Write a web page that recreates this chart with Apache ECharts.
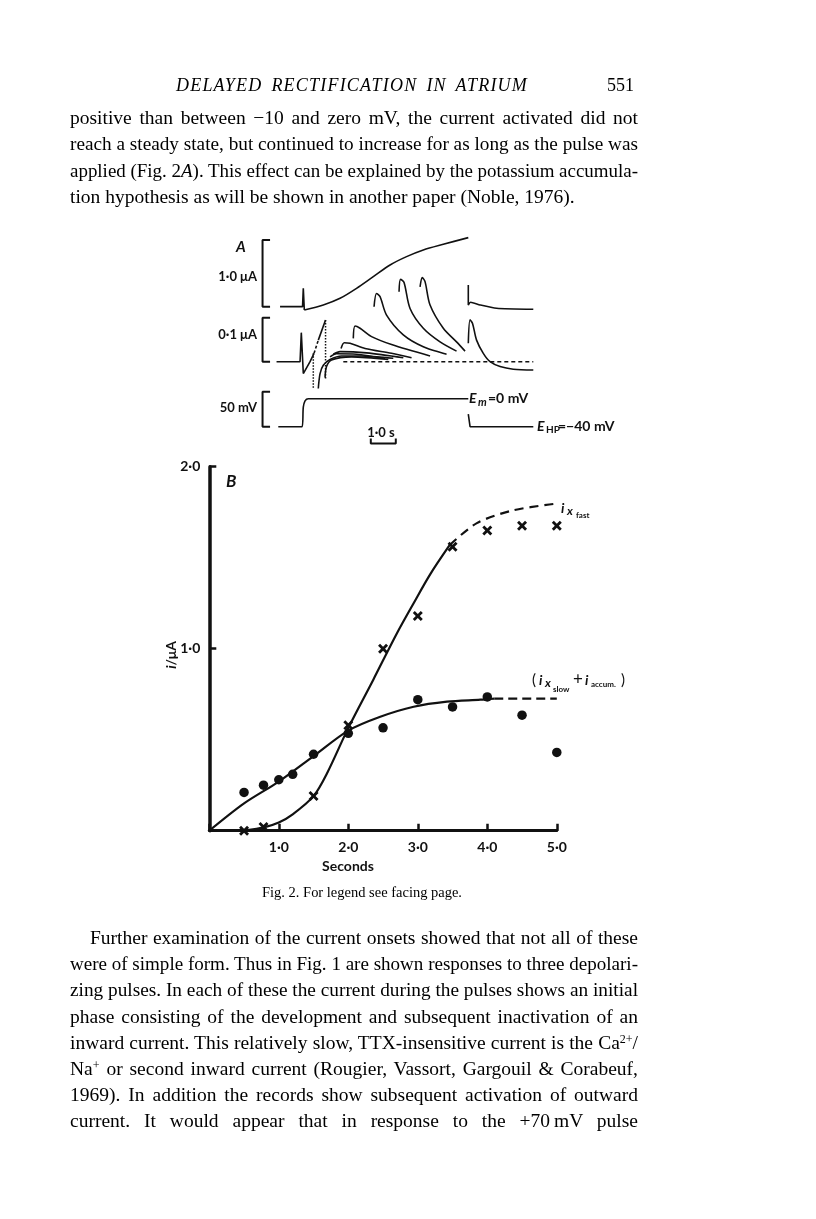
<!DOCTYPE html>
<html>
<head>
<meta charset="utf-8">
<script src="https://cdn.jsdelivr.net/npm/echarts@6/dist/echarts.min.js"></script>
<style>
  html, body { margin: 0; padding: 0; background: #fff; }
  #page { position: relative; width: 816px; height: 1219px; overflow: hidden; background: #fff; }
  #chart { position: absolute; left: 0; top: 0; width: 816px; height: 1219px; }
  .ln { position: absolute; white-space: nowrap; font-family: 'Liberation Serif', 'Times New Roman', serif;
        font-size: 19.5px; line-height: 26px; color: #000; transform-origin: 0 0; }
  .ln sup { font-size: 12px; line-height: 0; vertical-align: 6px; }
</style>
</head>
<body>
<div id="page">
  <div id="chart"></div>

  <div class="ln" data-j="1" style="left:176px;top:72px;width:352px;font-style:italic;font-size:18px;letter-spacing:1.2px"><span>DELAYED RECTIFICATION IN ATRIUM</span></div>
  <div class="ln" style="left:607px;top:72px;font-size:18px"><span>551</span></div>

  <div class="ln" data-j="1" style="left:70px;top:105px;width:568px"><span>positive than between &minus;10 and zero mV, the current activated did not</span></div>
  <div class="ln" data-j="1" style="left:70px;top:131px;width:568px"><span>reach a steady state, but continued to increase for as long as the pulse was</span></div>
  <div class="ln" data-j="1" style="left:70px;top:158px;width:568px"><span>applied (Fig. 2<i>A</i>). This effect can be explained by the potassium accumula-</span></div>
  <div class="ln" style="left:70px;top:184px"><span>tion hypothesis as will be shown in another paper (Noble, 1976).</span></div>

  <div class="ln" data-j="1" style="left:262px;top:879px;width:200px;font-size:15px"><span>Fig. 2. For legend see facing page.</span></div>

  <div class="ln" data-j="1" style="left:90px;top:925px;width:548px"><span>Further examination of the current onsets showed that not all of these</span></div>
  <div class="ln" data-j="1" style="left:70px;top:951px;width:568px"><span>were of simple form. Thus in Fig. 1 are shown responses to three depolari-</span></div>
  <div class="ln" data-j="1" style="left:70px;top:977px;width:568px"><span>zing pulses. In each of these the current during the pulses shows an initial</span></div>
  <div class="ln" data-j="1" style="left:70px;top:1004px;width:568px"><span>phase consisting of the development and subsequent inactivation of an</span></div>
  <div class="ln" data-j="1" style="left:70px;top:1030px;width:568px"><span>inward current. This relatively slow, TTX-insensitive current is the Ca<sup>2+</sup>/</span></div>
  <div class="ln" data-j="1" style="left:70px;top:1056px;width:568px"><span>Na<sup>+</sup> or second inward current (Rougier, Vassort, Gargouil &amp; Corabeuf,</span></div>
  <div class="ln" data-j="1" style="left:70px;top:1082px;width:568px"><span>1969). In addition the records show subsequent activation of outward</span></div>
  <div class="ln" data-j="1" style="left:70px;top:1108px;width:568px"><span>current. It would appear that in response to the +70&#8239;mV pulse</span></div>
</div>

<script>
// ---- Fig. 2B: measured points (time in s, current in uA)
const tSlow = [0.5, 0.78, 1.0, 1.2, 1.5, 2.0, 2.5, 3.0, 3.5, 4.0, 4.5, 5.0];
const iSlow = [0.21, 0.25, 0.28, 0.31, 0.42, 0.535, 0.565, 0.72, 0.68, 0.735, 0.635, 0.43];
const tFast = [0.5, 0.78, 1.5, 2.0, 2.5, 3.0, 3.5, 4.0, 4.5, 5.0];
const iFast = [0.0, 0.02, 0.19, 0.58, 1.0, 1.18, 1.56, 1.65, 1.675, 1.675];

// fitted curves drawn through the points
const slowFit = [[0, 0], [0.5, 0.15], [1.0, 0.27], [1.5, 0.41], [2.0, 0.55], [2.46, 0.626],
                 [2.94, 0.681], [3.42, 0.709], [3.9, 0.72], [4.1, 0.726]];
const slowFitDash = [[4.1, 0.726], [5.0, 0.726]];
const fastFit = [[0.3, 0], [0.55, 0.004], [0.8, 0.02], [1.0, 0.045], [1.2, 0.09], [1.5, 0.19],
                 [1.7, 0.32], [2.0, 0.565], [2.36, 0.83], [2.7, 1.085], [2.94, 1.25], [3.18, 1.41], [3.46, 1.57]];
const fastFitDash = [[3.46, 1.57], [3.85, 1.69], [4.37, 1.76], [4.95, 1.795]];

// ---- Fig. 2A: records (time in s from pulse onset)
// 1.0 uA trace (uA)
const bigOnset = [[-0.93, 0], [-0.03, 0], [0, 0.275], [0.04, -0.05]];
const bigRise = [[0.04, -0.05], [0.8, 0.025], [1.47, 0.125], [2.13, 0.275], [2.8, 0.45], [3.47, 0.625],
                 [4.13, 0.75], [4.8, 0.85], [5.6, 0.935], [6.6, 1.035]];
const bigTail = [[6.6, 0.325], [6.6, 0.025], [6.69, 0.065], [7.07, 0.025], [7.73, -0.025], [9.2, -0.04]];

// 0.1 uA traces (nA)
const onsetA = [[-1.07, 0], [-0.13, 0], [-0.08, 66], [0, -27], [0.08, -29], [0.27, 0], [0.43, 19]];
const onsetDash = [[0.43, 19], [0.6, 49]];
const onsetB = [[0.6, 49], [0.89, 95]];
const dropA = [[0.4, 19], [0.4, -59]];
const dropB = [[0.89, 95], [0.89, -38]];
const rec1 = [[0.6, -61], [0.67, -27], [0.8, -8], [1.07, 5], [1.53, 13], [2.33, 13], [3.27, 8]];
const rec2 = [[0.87, -36], [0.93, -11], [1.13, 4], [1.93, 11], [3.4, 5]];
const rec3 = [[1.07, 11], [1.33, 18], [2.13, 17], [2.93, 11], [3.6, 8]];
const rec4 = [[1.2, 17], [1.47, 23], [2.53, 20], [4.0, 9]];
const tail1 = [[1.51, 30], [1.64, 43], [1.87, 42], [2.47, 30], [3.53, 19], [4.33, 9]];
const tail2 = [[2.0, 53], [2.07, 81], [2.27, 76], [2.73, 57], [3.53, 39], [5.07, 13]];
const tail3 = [[2.83, 125], [2.93, 155], [3.07, 148], [3.33, 106], [4.0, 61], [4.8, 34], [5.73, 17]];
const tail4 = [[3.83, 159], [3.89, 187], [4.03, 180], [4.27, 121], [4.8, 76], [5.47, 45], [6.13, 24]];
const tail5 = [[4.67, 170], [4.76, 191], [4.87, 182], [5.07, 129], [5.6, 76], [6.13, 45], [6.47, 24]];
const offTail = [[6.6, 42], [6.67, 95], [6.77, 87], [6.93, 49], [7.2, 19], [7.47, 0], [7.87, -11], [8.4, -17], [9.2, -19]];
const zeroLine = [[1.6, 0], [9.2, 0]];

// membrane potential (mV)
const vStep = [[-1, -40], [-0.05, -40], [0, -12], [0.07, -3], [0.2, 0], [6.6, 0]];
const vBack = [[6.6, -22], [6.67, -40], [9.2, -40]];

// calibration bars
const barUA = [[-1.33, 1.0], [-1.63, 1.0], [-1.63, 0], [-1.33, 0]];
const barNA = [[-1.33, 100], [-1.63, 100], [-1.63, 0], [-1.33, 0]];
const barMV = [[-1.33, 10], [-1.63, 10], [-1.63, -40], [-1.33, -40]];
const barSec = [[2.7, -57], [2.7, -64], [3.7, -64], [3.7, -57]];

const INK = '#111';
const FONT = 'Lato';

function txt(x, y, s, size, extra) {
  return Object.assign({
    type: 'text', x: x, y: y, silent: true,
    style: Object.assign({ text: s, fill: INK, font: 'bold ' + size + 'px ' + FONT,
                           align: 'left', verticalAlign: 'middle' }, (extra && extra.style) || {})
  }, (extra && extra.el) || {});
}

function trace(data, grid, opt) {
  opt = opt || {};
  return {
    type: 'line', data: data, xAxisIndex: grid, yAxisIndex: grid,
    symbol: 'none', clip: false, silent: true,
    smooth: opt.smooth === undefined ? 0.3 : opt.smooth,
    lineStyle: { color: INK, width: opt.width || 1.6, type: opt.type || 'solid' }
  };
}

const tickFmt = v => (v === 0 ? '' : v.toFixed(1).replace('.', '·'));
const crossPath = 'path://M0,2L2,0L5,3L8,0L10,2L7,5L10,8L8,10L5,7L2,10L0,8L3,5Z';

const chart = echarts.init(document.getElementById('chart'));

const hiddenX = { type: 'value', min: -1.8, max: 9.4, show: false };

chart.setOption({
  animation: false,
  backgroundColor: 'transparent',
  grid: [
    { left: 209.3, top: 466.7, width: 347.5, height: 364 },   // B
    { left: 258.3, top: 233.3, width: 280, height: 80 },       // A, 1.0 uA
    { left: 258.3, top: 273.7, width: 280, height: 118.8 },    // A, 0.1 uA
    { left: 258.3, top: 388.2, width: 280, height: 59.5 }      // A, voltage
  ],
  xAxis: [
    {
      type: 'value', gridIndex: 0, min: 0, max: 5, interval: 1,
      axisLine: { show: true, lineStyle: { color: INK, width: 3 } },
      axisTick: { show: true, inside: true, length: 7, lineStyle: { color: INK, width: 2.5 } },
      splitLine: { show: false },
      axisLabel: { formatter: tickFmt, color: INK, fontFamily: FONT, fontWeight: 'bold', fontSize: 14, margin: 10 }
    },
    Object.assign({ gridIndex: 1 }, hiddenX),
    Object.assign({ gridIndex: 2 }, hiddenX),
    Object.assign({ gridIndex: 3 }, hiddenX)
  ],
  yAxis: [
    {
      type: 'value', gridIndex: 0, min: 0, max: 2, interval: 1,
      axisLine: { show: true, lineStyle: { color: INK, width: 3.5 } },
      axisTick: { show: true, inside: true, length: 7, lineStyle: { color: INK, width: 2.5 } },
      splitLine: { show: false },
      axisLabel: { formatter: tickFmt, color: INK, fontFamily: FONT, fontWeight: 'bold', fontSize: 14, margin: 9 }
    },
    { type: 'value', gridIndex: 1, min: -0.1, max: 1.1, show: false },
    { type: 'value', gridIndex: 2, min: -70, max: 200, show: false },
    { type: 'value', gridIndex: 3, min: -70, max: 15, show: false }
  ],
  series: [
    // panel B
    trace(slowFit, 0, { width: 2.2 }),
    trace(slowFitDash, 0, { width: 2.2, smooth: 0, type: [9, 5] }),
    trace(fastFit, 0, { width: 2.2 }),
    trace(fastFitDash, 0, { width: 2.2, type: [9, 6] }),
    {
      type: 'scatter', xAxisIndex: 0, yAxisIndex: 0, symbol: 'circle', symbolSize: 9.5,
      itemStyle: { color: INK, opacity: 1 }, silent: true, clip: false,
      data: tSlow.map((t, k) => [t, iSlow[k]])
    },
    {
      type: 'scatter', xAxisIndex: 0, yAxisIndex: 0, symbol: crossPath, symbolSize: 10,
      itemStyle: { color: INK, opacity: 1 }, silent: true, clip: false,
      data: tFast.map((t, k) => [t, iFast[k]])
    },
    // panel A, 1.0 uA record
    trace(bigOnset, 1, { smooth: 0 }),
    trace(bigRise, 1),
    trace(bigTail, 1, { smooth: 0.2 }),
    trace(barUA, 1, { smooth: 0, width: 2 }),
    // panel A, 0.1 uA records
    trace(onsetA, 2, { smooth: 0 }),
    trace(onsetDash, 2, { smooth: 0, type: [3, 2] }),
    trace(onsetB, 2, { smooth: 0 }),
    trace(dropA, 2, { smooth: 0, type: 'dotted', width: 1.5 }),
    trace(dropB, 2, { smooth: 0, type: 'dotted', width: 1.5 }),
    trace(rec1, 2), trace(rec2, 2), trace(rec3, 2), trace(rec4, 2),
    trace(tail1, 2), trace(tail2, 2), trace(tail3, 2), trace(tail4, 2), trace(tail5, 2),
    trace(offTail, 2),
    trace(zeroLine, 2, { smooth: 0, type: [4, 3], width: 1.4 }),
    trace(barNA, 2, { smooth: 0, width: 2 }),
    // panel A, voltage
    trace(vStep, 3, { smooth: 0.3 }),
    trace(vBack, 3, { smooth: 0 }),
    trace(barMV, 3, { smooth: 0, width: 2 }),
    trace(barSec, 3, { smooth: 0, width: 2 })
  ],
  graphic: [
    // panel A labels
    txt(236, 247, 'A', 15, { style: { font: 'italic bold 15px ' + FONT } }),
    txt(257, 277, '1·0 μA', 13, { style: { align: 'right' } }),
    txt(257, 335, '0·1 μA', 13, { style: { align: 'right' } }),
    txt(257, 408, '50 mV', 13, { style: { align: 'right' } }),
    txt(381, 433, '1·0 s', 13, { style: { align: 'center' } }),
    txt(469, 398, 'E', 14, { style: { font: 'italic bold 14px ' + FONT } }),
    txt(478, 402, 'm', 11, { style: { font: 'italic bold 11px ' + FONT } }),
    txt(488, 398, '=0 mV', 14),
    txt(537, 426, 'E', 14, { style: { font: 'italic bold 14px ' + FONT } }),
    txt(546, 430, 'HP', 10),
    txt(558, 426, '=\u221240 mV', 14),
    // panel B labels
    txt(226, 482, 'B', 17, { style: { font: 'italic bold 17px ' + FONT } }),
    txt(348, 866, 'Seconds', 14, { style: { align: 'center' } }),
    {
      type: 'text', x: 171, y: 655, rotation: Math.PI / 2, silent: true,
      style: { text: '{a|i}/μA', fill: INK, font: 'bold 14px ' + FONT, align: 'center', verticalAlign: 'middle',
               rich: { a: { fontStyle: 'italic', fontWeight: 'bold', fontSize: 14, fontFamily: FONT } } }
    },
    txt(561, 508, 'i', 14, { style: { font: 'italic bold 14px ' + FONT } }),
    txt(567, 511, 'x', 12, { style: { font: 'italic bold 12px ' + FONT } }),
    txt(576, 515, 'fast', 8),
    txt(532, 680, '(', 15, { style: { font: '15px ' + FONT } }),
    txt(539, 680, 'i', 14, { style: { font: 'italic bold 14px ' + FONT } }),
    txt(545, 683, 'x', 12, { style: { font: 'italic bold 12px ' + FONT } }),
    txt(553, 689, 'slow', 8),
    txt(573, 680, '+', 17, { style: { font: '17px ' + FONT } }),
    txt(585, 680, 'i', 14, { style: { font: 'italic bold 14px ' + FONT } }),
    txt(591, 684, 'accum.', 8),
    txt(621, 680, ')', 15, { style: { font: '15px ' + FONT } })
  ]
});

// fit the prose lines to the printed measure
document.querySelectorAll('.ln').forEach(function (el) {
  if (el.dataset.j !== '1') return;
  var W = parseFloat(el.style.width);
  var w = el.firstElementChild.getBoundingClientRect().width;
  if (w > W) {
    el.style.width = w + 'px';
    el.style.transform = 'scaleX(' + (W / w) + ')';
  } else {
    el.style.whiteSpace = 'normal';
    el.style.textAlign = 'justify';
    el.style.textAlignLast = 'justify';
  }
});
</script>
</body>
</html>
